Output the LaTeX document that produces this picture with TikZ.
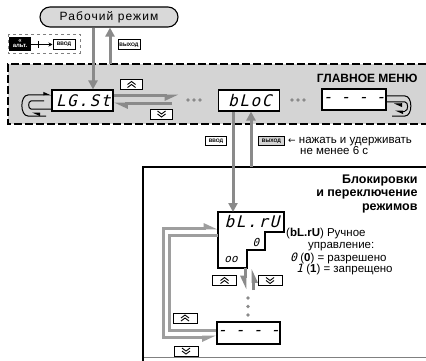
\documentclass[tikz,border=0pt]{standalone}
\usepackage{fontspec}
\setmainfont{Liberation Sans}
\newfontfamily\spaced{Liberation Sans}[LetterSpace=9]
\newfontfamily\seg{DejaVu Sans Mono}[FakeSlant=0.25,LetterSpace=10]
\newfontfamily\segn{DejaVu Sans Mono}[FakeSlant=0.25]
\newfontfamily\sym{DejaVu Sans}
\usetikzlibrary{arrows.meta,shapes.misc,calc}
\definecolor{menugray}{HTML}{D4D4D4}
\definecolor{boxgray}{HTML}{D9D9D9}
\definecolor{arrgray}{HTML}{8A8A8A}
\definecolor{loopgray}{HTML}{9E9E9E}
\tikzset{
  segbox/.style={draw, line width=1.1pt, fill=white, minimum width=61pt, minimum height=21pt, inner sep=0pt, font=\seg\fontsize{16}{16}\selectfont},
  dashtext/.style={font=\segn\fontsize{16}{16}\selectfont},
  garrow/.style={draw=arrgray, line width=3pt},
  gtip/.style={-{Triangle[length=9pt,width=9pt]}},
  harp/.style={-{Stealth[harpoon,length=11pt,width=9pt,inset=0pt]}},
  harps/.style={-{Stealth[harpoon,swap,length=11pt,width=9pt,inset=0pt]}},
  keybox/.style={draw, line width=1pt, fill=white, minimum width=22pt, minimum height=10pt, inner sep=0pt},
  keyup/.style={keybox, path picture={
     \draw[line width=0.9pt] ([xshift=-4pt,yshift=-3pt]path picture bounding box.center) -- ([yshift=0pt]path picture bounding box.center) -- ([xshift=4pt,yshift=-3pt]path picture bounding box.center);
     \draw[line width=0.9pt] ([xshift=-4pt,yshift=0pt]path picture bounding box.center) -- ([yshift=3pt]path picture bounding box.center) -- ([xshift=4pt,yshift=0pt]path picture bounding box.center);}},
  keydown/.style={keybox, path picture={
     \draw[line width=0.9pt] ([xshift=-4pt,yshift=3pt]path picture bounding box.center) -- ([yshift=0pt]path picture bounding box.center) -- ([xshift=4pt,yshift=3pt]path picture bounding box.center);
     \draw[line width=0.9pt] ([xshift=-4pt,yshift=0pt]path picture bounding box.center) -- ([yshift=-3pt]path picture bounding box.center) -- ([xshift=4pt,yshift=0pt]path picture bounding box.center);}},
  lblkey/.style={draw, line width=1pt, fill=white, minimum width=22pt, minimum height=10pt, inner sep=0pt, font=\fontsize{5}{5}\selectfont\bfseries},
  blackline/.style={line width=1pt, draw=black},
  bharp/.style={-{Stealth[harpoon,length=7pt,width=6pt,inset=0pt]}},
  gdot/.style={circle, fill=arrgray, inner sep=0pt, minimum size=3.6pt},
  desc/.style={anchor=west, inner sep=0pt, font=\fontsize{11.5}{11.5}\selectfont},
}
\begin{document}
\begin{tikzpicture}[x=1pt,y=-1pt]
\useasboundingbox (0,0) rectangle (426,361);
\fill[white] (0,0) rectangle (426,361);

% main menu area
\fill[menugray] (8,64) rectangle (426,124);
\draw[line width=2.4pt, dash pattern=on 8pt off 3pt] (426,64) -- (8,64) -- (8,124) -- (426,124);
\node[anchor=east, font=\bfseries\fontsize{12}{12}\selectfont] (gm) at (421,78) {ГЛАВНОЕ МЕНЮ};

% working mode
\node[rounded rectangle, draw, line width=1.1pt, fill=boxgray, minimum width=138pt, minimum height=20pt, inner sep=0pt, font=\spaced\fontsize{12}{12}\selectfont] (rab) at (109,17) {Рабочий режим};

% key combination box
\draw[dashed, draw=gray, line width=0.5pt] (8,34) rectangle (80,53);
\node[draw, fill=black, minimum width=21pt, minimum height=13pt, inner sep=0pt, text=white, align=center, font=\fontsize{6}{5}\selectfont\bfseries] (alt) at (20,44) {<<\\альт.};
\node[lblkey] (vvod1) at (64,44.5) {ВВОД};
\coordinate (plus) at (38,44.5);
\draw[line width=0.9pt, -{Stealth[length=4pt,width=4pt]}] (alt.east |- plus) -- (vvod1.west);
\draw[line width=0.9pt] (38,41) -- (38,48);
\node[lblkey] (vyh1) at (129,45) {ВЫХОД};

% segment boxes
\node[segbox] (lgst) at (82.5,100.5) {\hspace{1.6pt}LG.St};
\node[segbox] (bloc) at (249,100.5) {\hspace{1.6pt}bLoC};
\node[segbox, minimum width=64pt, dashtext] (dash1) at (354,99.5) {-\enspace-\enspace-\enspace-};

% arrows between rab and lgst
\coordinate (xa) at (93,0);
\coordinate (xb) at (110,0);
\draw[garrow, gtip] (rab.south -| xa) -- (lgst.north -| xa);
\draw[garrow, gtip] (xb |- 0,64) -- (rab.south -| xb);

% keys in menu
\node[keyup] (up1) at (131.5,84.5) {};
\node[keydown] (dn1) at (161.5,114) {};

% half arrows lgst <-> dots
\coordinate (ya) at (0,96);
\coordinate (yb) at (0,104);
\draw[garrow, harps] (lgst.east |- ya) -- (179,96);
\draw[garrow, harp] (172,104) -- (lgst.east |- yb);

% dots
\node[gdot] (d1) at (188,100) {};
\node[gdot] (d2) at (194,100) {};
\node[gdot] (d3) at (200,100) {};
\node[gdot] (d4) at (292,100) {};
\node[gdot] (d5) at (298,100) {};
\node[gdot] (d6) at (304,100) {};

% left loop (menu)
\draw[blackline, bharp] (46,116) -- (28,116) to[out=180,in=180] (28,95) -- (lgst.west |- 0,95);
\draw[blackline] (lgst.west |- 0,109) -- (31,109) to[out=180,in=180] (31,101) -- (44,101);
\draw[blackline, bharp] (40,113) -- (32,113);
% right loop (menu)
\draw[blackline] (dash1.east |- 0,96) -- (405,96) to[out=0,in=0] (405,116) -- (392,116);
\draw[blackline, bharp] (405,111) -- (395,111);
\draw[blackline] (405,111) to[out=0,in=0] (405,102) -- (dash1.east |- 0,102);
\draw[blackline, bharp] (402,104) -- (394,104);

% lower box
\draw[line width=0.6pt, draw=gray] (143,357) -- (426,357);
\draw[line width=1.8pt] (143,361) -- (143,167) -- (426,167);
\node[anchor=north east, align=right, font=\bfseries\fontsize{12.5}{13.8}\selectfont] (title) at (421,171) {Блокировки\\и переключение\\режимов};

% ВВОД / ВЫХОД labels below menu
\node[lblkey, minimum width=21pt, minimum height=9pt] (vvod2) at (216,141) {ВВОД};
\node[lblkey, minimum width=26pt, minimum height=9pt, fill=menugray] (vyh2) at (271.5,141) {ВЫХОД};
\node[anchor=west, align=left, font=\fontsize{11.5}{10.5}\selectfont, inner sep=0pt] (hold) at (288,146) {{\sym\fontsize{9}{9}\selectfont ←} нажать и удерживать\\\hspace{12pt}не менее 6 с};

% staircase bL.rU
\node[anchor=north west, minimum width=66pt, minimum height=56pt, inner sep=0pt] (blru) at (218,212) {};
\draw[line width=1.1pt, fill=white] (218,212) -- (284,212) -- (284,232) -- (265,232) -- (265,250) -- (247,250) -- (247,268) -- (218,268) -- cycle;
\node[font=\seg\fontsize{16}{16}\selectfont, inner sep=0pt] (blrutxt) at (252,222) {bL.rU};
\node[font=\segn\fontsize{11}{11}\selectfont, inner sep=0pt] (zero) at (256,242) {0};
\node[font=\segn\fontsize{11}{11}\selectfont, inner sep=0pt] (oo) at (231,259) {oo};

% arrows from bloc to blru
\coordinate (xc) at (233,0);
\coordinate (xd) at (251,0);
\draw[garrow, gtip] (bloc.south -| xc) -- (blru.north -| xc);
\draw[garrow, gtip] (xd |- 0,167) -- (bloc.south -| xd);

% description
\node[desc] (desc1) at (286,234) {(\textbf{bL.rU}) Ручное};
\node[desc] (desc2) at (308,247) {управление:};
\node[desc] (desc3) at (290,258) {{\segn 0} (\textbf{0}) = разрешено};
\node[desc] (desc4) at (296,269) {{\segn 1} (\textbf{1}) = запрещено};

% keys lower
\node[keyup, minimum width=24pt] (up2) at (224.5,280.5) {};
\node[keydown, minimum width=24pt] (dn2) at (270,280.5) {};
\node[keyup, minimum width=24pt] (up3) at (185,318) {};
\node[keydown, minimum width=24pt] (dn3) at (186,351) {};

% lower dash box
\node[segbox, minimum width=63pt, minimum height=22pt, dashtext] (dash2) at (248.5,333) {-\enspace-\enspace-\enspace-};

% half arrows under blru
\coordinate (xe) at (245,0);
\coordinate (xf) at (253,0);
\draw[garrow, harps] (blru.south -| xe) -- (245,290);
\draw[garrow, harps] (253,290) -- (blru.south -| xf);

\node[gdot] (v1) at (248,298) {};
\node[gdot] (v2) at (248,306.5) {};
\node[gdot] (v3) at (248,315) {};

% loop lower
\draw[draw=loopgray, line width=3pt, {Stealth[harpoon,swap,length=11pt,width=9pt,inset=0pt]}-{Stealth[harpoon,length=11pt,width=9pt,inset=0pt]}] (dash2.west |- 0,337) -- (163,337) -- (163,228) -- (blru.west |- 0,228);
\draw[draw=loopgray, line width=3pt] (dash2.west |- 0,330) -- (169,330) -- (169,235) -- (blru.west |- 0,235);
\end{tikzpicture}
\end{document}
